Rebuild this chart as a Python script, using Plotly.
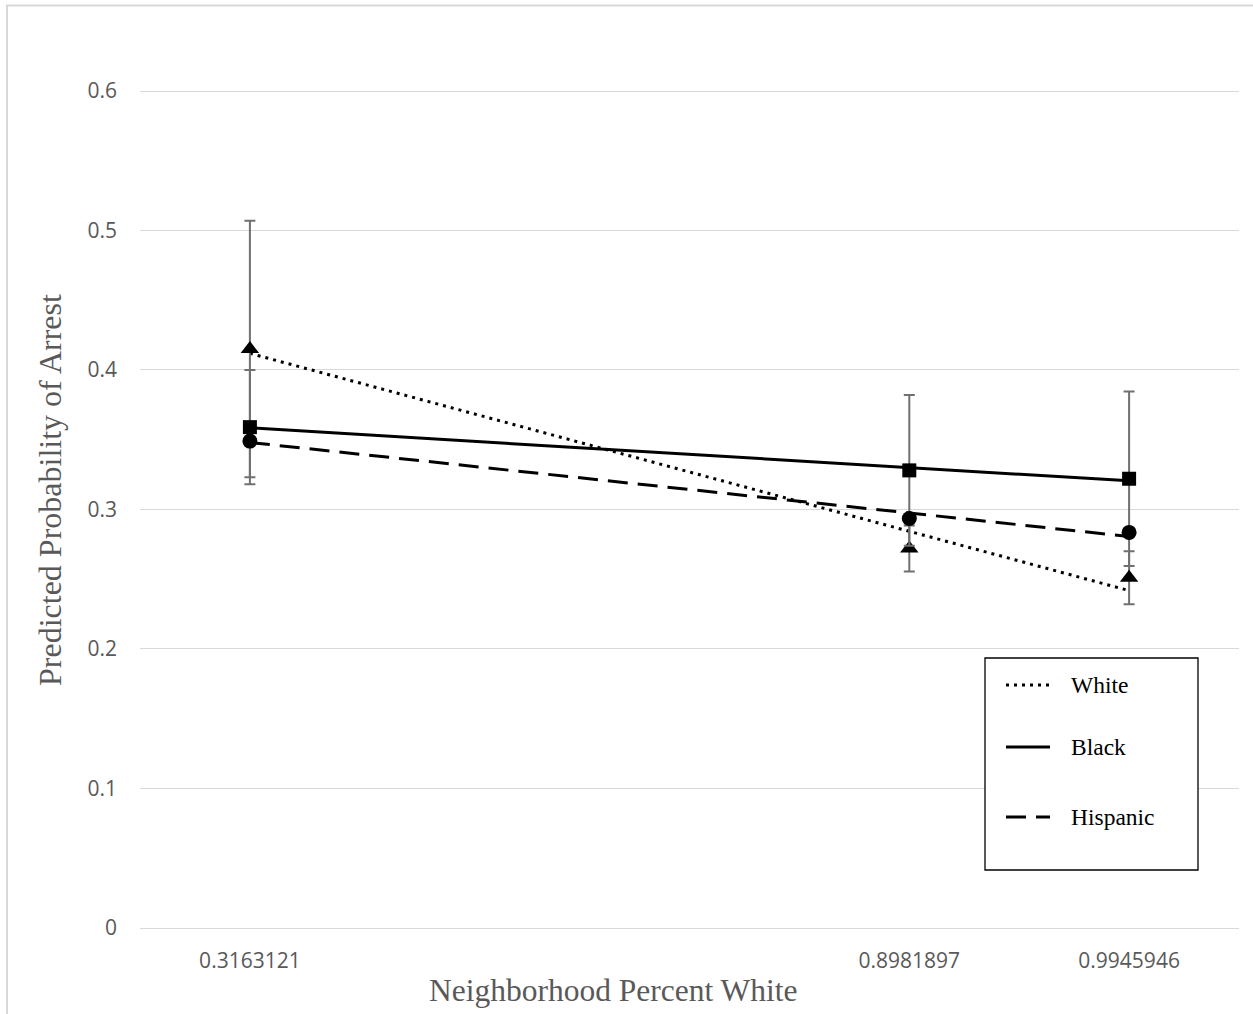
import numpy as np
import plotly.graph_objects as go

# ---- data ----
x_labels = ["0.3163121", "0.8981897", "0.9945946"]
x_pos = [1, 4, 5]  # category slots used on the chart's axis

white = [0.415, 0.272, 0.251]
white_err = [0.092, 0.0165, 0.019]
black = [0.359, 0.328, 0.322]
black_err = [0.041, 0.054, 0.0625]
hispanic = [0.349, 0.2935, 0.2835]

y_ticks = [0, 0.1, 0.2, 0.3, 0.4, 0.5, 0.6]

# ---- layout geometry (pixels) ----
W, H = 1253, 1014
L, R, T, B = 140, 14, 90, 86
pw, ph = W - L - R, H - T - B


def px_x(p):
    return (p - L) / pw


def px_y(p):
    return (H - B - p) / ph


fig = go.Figure()

ERR_COLOR = "#707070"


def trend(ys):
    k, b = np.polyfit(x_pos, ys, 1)
    xs = [x_pos[0], x_pos[-1]]
    return xs, [k * v + b for v in xs]


series = [
    ("White", white, white_err, "3px,5px", 3, "triangle-up", 16),
    ("Black", black, black_err, "solid", 3, "square", 14),
    ("Hispanic", hispanic, None, "20px,10px", 3, "circle", 15),
]

# trend lines
for name, ys, err, dash, lw, sym, ms in series:
    tx, ty = trend(ys)
    fig.add_trace(go.Scatter(
        x=tx, y=ty, mode="lines", name=name, showlegend=False,
        line=dict(color="black", width=lw, dash=dash),
        hoverinfo="skip",
    ))

# markers with error bars
for name, ys, err, dash, lw, sym, ms in series:
    kw = {}
    if err is not None:
        kw["error_y"] = dict(type="data", array=err, visible=True,
                             color=ERR_COLOR, thickness=2, width=5.5)
    fig.add_trace(go.Scatter(
        x=x_pos, y=ys, mode="markers", name=name, showlegend=False,
        marker=dict(symbol=sym, size=ms, color="black",
                    line=dict(width=0)),
        **kw,
    ))

shapes = []
annotations = []

# chart-area border (light grey, left + top visible)
shapes.append(dict(type="rect", xref="paper", yref="paper",
                   x0=px_x(7), x1=px_x(1262), y0=px_y(1030), y1=px_y(5.5),
                   line=dict(color="#d9d9d9", width=2), fillcolor="rgba(0,0,0,0)",
                   layer="below"))

# manual legend box
shapes.append(dict(type="rect", xref="paper", yref="paper",
                   x0=px_x(985), x1=px_x(1198), y0=px_y(870), y1=px_y(658),
                   line=dict(color="black", width=1.3), fillcolor="white",
                   layer="above"))
leg_rows = [("White", 685, "3px,5px"), ("Black", 747, "solid"), ("Hispanic", 817, "20px,10px")]
for name, yy, dash in leg_rows:
    shapes.append(dict(type="line", xref="paper", yref="paper",
                       x0=px_x(1006), x1=px_x(1050), y0=px_y(yy), y1=px_y(yy),
                       line=dict(color="black", width=3, dash=dash), layer="above"))
    annotations.append(dict(xref="paper", yref="paper", x=px_x(1069), y=px_y(yy),
                            text=name, showarrow=False, xanchor="left", yanchor="middle",
                            font=dict(family="Liberation Serif", size=23.5, color="black")))

# axis titles
annotations.append(dict(xref="paper", yref="paper", x=px_x(613), y=px_y(990),
                        text="Neighborhood Percent White", showarrow=False,
                        xanchor="center", yanchor="middle",
                        font=dict(family="Liberation Serif", size=31.5, color="#595959")))
annotations.append(dict(xref="paper", yref="paper", x=px_x(50), y=px_y(490),
                        text="Predicted Probability of Arrest", showarrow=False,
                        textangle=-90, xanchor="center", yanchor="middle",
                        font=dict(family="Liberation Serif", size=32, color="#595959")))

fig.update_layout(
    width=W, height=H,
    margin=dict(l=L, r=R, t=T, b=B, pad=0),
    paper_bgcolor="white", plot_bgcolor="white",
    showlegend=False,
    shapes=shapes, annotations=annotations,
    font=dict(family="Open Sans", size=20, color="#595959"),
)
fig.update_xaxes(
    range=[0.5, 5.5], tickvals=x_pos, ticktext=x_labels,
    showgrid=False, zeroline=False, showline=True, linecolor="#d9d9d9", linewidth=1.3,
    ticks="", ticklabelstandoff=14,
    tickfont=dict(family="Open Sans", size=21, color="#595959"),
)
fig.update_yaxes(
    range=[-0.0002, 0.6008], tickvals=y_ticks,
    showgrid=True, gridcolor="#d9d9d9", gridwidth=1.3, zeroline=False,
    showline=False, ticks="", ticklabelstandoff=22,
    tickfont=dict(family="Open Sans", size=21, color="#595959"),
)

fig.write_html("out.html",
               config={"displayModeBar": False},
               post_script="document.body.style.margin='0';document.body.style.padding='0';")
